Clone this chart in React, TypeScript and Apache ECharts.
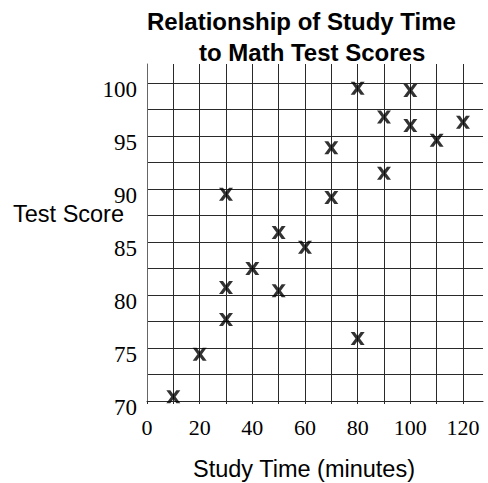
import React, { useEffect, useRef } from "react";
import * as echarts from "echarts";

const titleLine1 = "Relationship of Study Time";
const titleLine2 = "to Math Test Scores";
const xAxisName = "Study Time (minutes)";
const yAxisName = "Test Score";

const studyTimes = [10, 20, 30, 30, 30, 40, 50, 50, 60, 70, 70, 80, 80, 90, 90, 100, 100, 110, 120];
const testScores = [70.4, 74.4, 77.7, 80.7, 89.5, 82.5, 80.4, 85.9, 84.5, 89.2, 93.9, 75.9, 99.5, 91.5, 96.8, 99.3, 96.0, 94.6, 96.3];

const xMin = 0;
const xMax = 127.6;
const xStep = 10;
const xLabelStep = 20;
const xLabelMax = 120;
const yMin = 70;
const yMax = 101.8;
const yStep = 2.5;
const yLabelStep = 5;
const yLabelMax = 100;

const xMark = "path://M0,0 L4,0 L7,4.2 L10,0 L14,0 L9.2,6.5 L14,13 L10,13 L7,8.8 L4,13 L0,13 L4.8,6.5 Z";

const sans = "Liberation Sans, Arial, sans-serif";
const serif = "Liberation Serif, Times New Roman, serif";

export default function App() {
  const ref = useRef<HTMLDivElement>(null);
  useEffect(() => {
    if (!ref.current) return;
    const chart = echarts.init(ref.current, undefined, { renderer: "svg" });
    const data = studyTimes.map((t, i) => [t, testScores[i]]);
    const lineColor = "#2a2a2a";
    chart.setOption({
      animation: false,
      backgroundColor: "#ffffff",
      title: [
        {
          text: titleLine1,
          left: 147,
          top: 9,
          padding: 0,
          textStyle: { fontFamily: sans, fontWeight: "bold", fontSize: 24, color: "#000" },
        },
        {
          text: titleLine2,
          left: 199,
          top: 40,
          padding: 0,
          textStyle: { fontFamily: sans, fontWeight: "bold", fontSize: 24, color: "#000" },
        },
      ],
      graphic: [
        {
          type: "text",
          left: 13,
          top: 202,
          style: { text: yAxisName, font: `23.5px ${sans}`, fill: "#000" },
        },
        {
          type: "text",
          left: 193,
          top: 457,
          style: { text: xAxisName, font: `23.5px ${sans}`, fill: "#000" },
        },
      ],
      grid: { left: 147, right: 5, top: 64, bottom: 82, containLabel: false },
      xAxis: {
        type: "value",
        min: xMin,
        max: xMax,
        interval: xStep,
        axisLine: { show: true, lineStyle: { color: lineColor, width: 1 } },
        axisTick: { show: true, length: 3, lineStyle: { color: lineColor } },
        axisLabel: {
          margin: 15,
          fontFamily: serif,
          fontSize: 22,
          color: "#000",
          showMaxLabel: false,
          formatter: (v: number) => (Math.abs(v % xLabelStep) < 1e-6 && v <= xLabelMax ? String(v) : ""),
        },
        splitLine: { show: true, showMaxLine: false, lineStyle: { color: lineColor, width: 1 } },
      },
      yAxis: {
        type: "value",
        min: yMin,
        max: yMax,
        interval: yStep,
        axisLine: { show: true, lineStyle: { color: "#666", width: 1 } },
        axisTick: { show: false },
        axisLabel: {
          margin: 10,
          fontFamily: serif,
          fontSize: 23,
          color: "#000",
          verticalAlign: "top",
          lineHeight: 12,
          showMaxLabel: false,
          formatter: (v: number) => (Math.abs(v % yLabelStep) < 1e-6 && v <= yLabelMax ? String(v) : ""),
        },
        splitLine: { show: true, showMaxLine: false, lineStyle: { color: lineColor, width: 1 } },
      },
      series: [
        {
          type: "scatter",
          data,
          symbol: xMark,
          symbolSize: [14, 13],
          itemStyle: { color: "#000" },
        },
      ],
    });
    return () => chart.dispose();
  }, []);
  return (
    <div
      ref={ref}
      style={{ position: "fixed", left: 0, top: 0, width: 488, height: 483, background: "#fff" }}
    />
  );
}
